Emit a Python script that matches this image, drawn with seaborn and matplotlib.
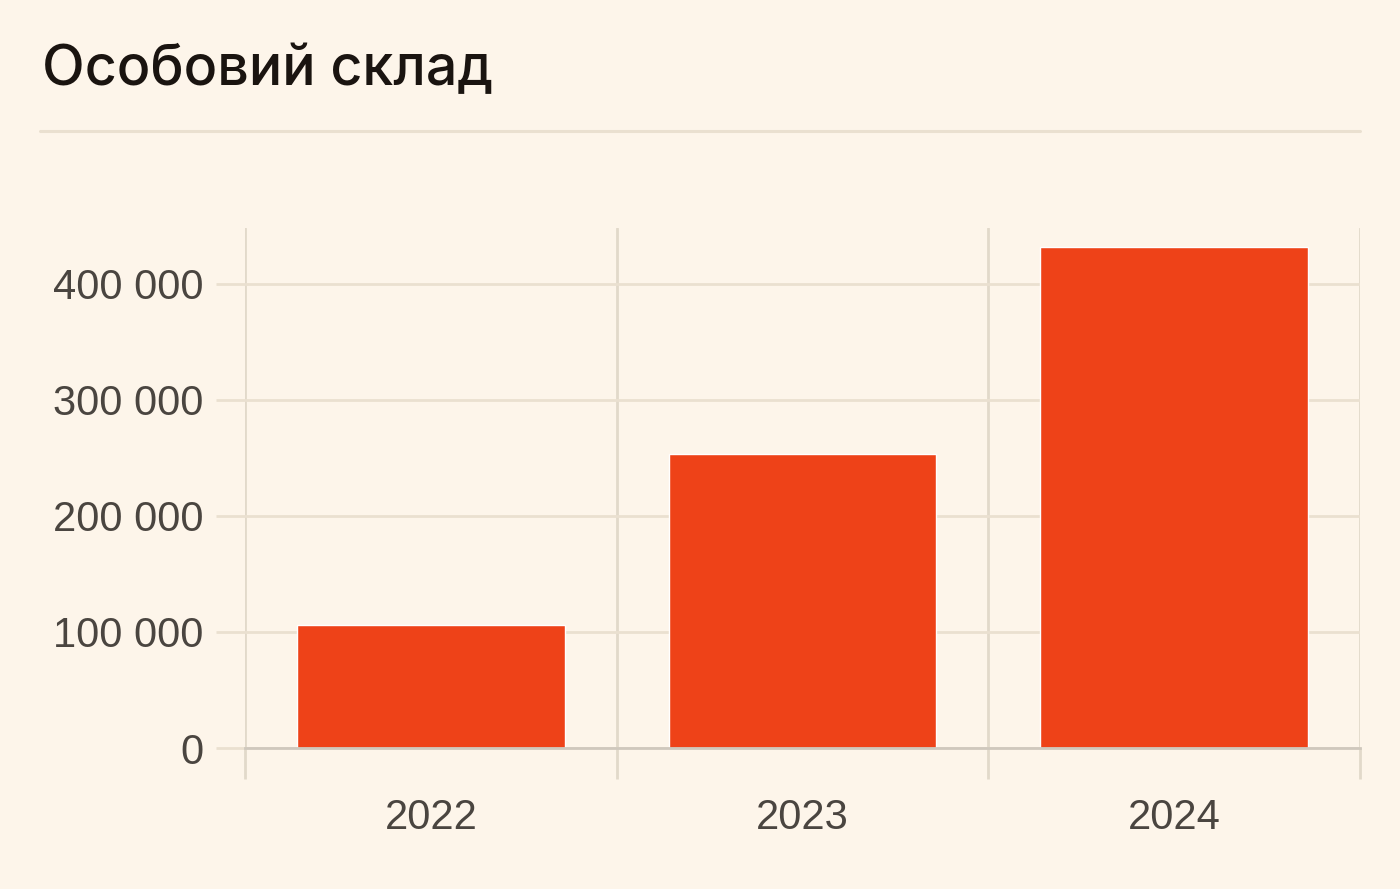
import matplotlib
matplotlib.use("Agg")
import matplotlib.pyplot as plt
import matplotlib.ticker as mticker
import pandas as pd
import seaborn as sns

years = ["2022", "2023", "2024"]
personnel = [106000, 253500, 432000]
y_ticks = [0, 100000, 200000, 300000, 400000]

BG = "#FDF5EA"
BAR = "#EE4218"
GRID = "#EAE0D0"
VGRID = "#E2D9CA"
BASE = "#CFC8BD"
TXT = "#4A4540"

sns.set_theme(style="white")
plt.rcParams["font.family"] = ["Liberation Sans", "DejaVu Sans"]

df = pd.DataFrame({"year": years, "value": personnel})

fig = plt.figure(figsize=(14, 8.89), dpi=100, facecolor=BG)
ax = fig.add_axes([0.175, 0.1586, 0.7964, 0.5849])
ax.set_facecolor(BG)

sns.barplot(data=df, x="year", y="value", color=BAR, width=0.72,
            saturation=1, ax=ax, zorder=3)

ax.set_xlim(-0.5, 2.5)
ax.set_ylim(0, 448000)
ax.set_yticks(y_ticks)
ax.yaxis.set_major_formatter(mticker.FuncFormatter(lambda v, p: f"{int(v):,}".replace(",", " ")))
ax.set_xticks([-0.5, 0.5, 1.5, 2.5], minor=True)

ax.grid(axis="y", which="major", color=GRID, linewidth=2, zorder=1)
ax.grid(axis="x", which="minor", color=VGRID, linewidth=2, zorder=1)
ax.grid(axis="x", which="major", visible=False)

ax.tick_params(axis="y", which="major", left=True, length=21, width=2, color=GRID,
               pad=9, labelsize=30, labelcolor=TXT)
ax.tick_params(axis="x", which="major", bottom=True, length=0, pad=36,
               labelsize=30, labelcolor=TXT)
ax.tick_params(axis="x", which="minor", bottom=True, length=22, width=2, color=VGRID)

for s in ["top", "right", "left"]:
    ax.spines[s].set_visible(False)
ax.spines["bottom"].set_color(BASE)
ax.spines["bottom"].set_linewidth(2)
ax.spines["bottom"].set_zorder(4)

ax.set_xlabel("")
ax.set_ylabel("")

fig.text(0.03, 0.921, "Особовий склад", fontsize=40, color="#1A1410",
         family=["Inter", "DejaVu Sans"], fontweight="medium", va="center", ha="left")
fig.add_artist(plt.Line2D([0.0286, 0.9714], [0.8526, 0.8526], color=GRID, linewidth=2.2))

fig.savefig("out.png", dpi=100, facecolor=BG)
